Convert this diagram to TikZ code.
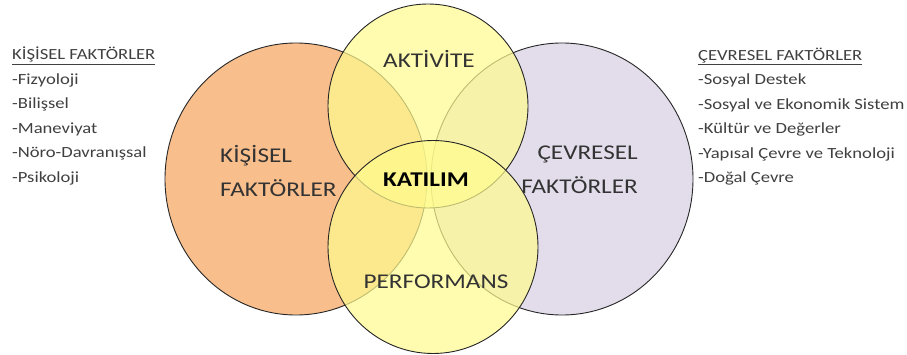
\documentclass[tikz,border=0pt]{standalone}
\usepackage{fontspec}
\setmainfont[FakeStretch=1.2]{Carlito}
\usetikzlibrary{shapes.geometric}
\usetikzlibrary{positioning}
\tikzset{>=latex}
\definecolor{turuncu}{HTML}{F8BE8C}
\definecolor{lila}{HTML}{E3DDEB}
\definecolor{sari}{HTML}{FFFC8E}
\definecolor{yazi}{HTML}{333333}
\definecolor{liste}{HTML}{404040}

\begin{document}
\begin{tikzpicture}[x=1pt,y=-1pt,
	daire/.style={ellipse,draw=black!85,line width=0.9pt,inner sep=0pt},
	sarid/.style={daire,fill=sari,fill opacity=0.7},
	etiket/.style={inner sep=0pt,text=yazi,font=\fontsize{21}{34}\selectfont},
	liste/.style={inner sep=0pt,anchor=base west,align=left,text=liste,font=\fontsize{15.5}{24.5}\selectfont}]
	\useasboundingbox[fill=white] (0,0) rectangle (907,355);
	\node[daire,fill=turuncu,minimum width=262pt,minimum height=272pt] (kisisel) at (296,179) {};
	\node[daire,fill=lila,minimum width=262pt,minimum height=272pt] (cevresel) at (562,179) {};
	\node[sarid,minimum width=200pt,minimum height=204pt] (aktivite) at (428,106) {};
	\node[sarid,minimum width=210pt,minimum height=213pt] (performans) at (433,247) {};
	\node[etiket,anchor=base west,align=left] (kisiselyazi) at (220,197) {KİŞİSEL\\FAKTÖRLER};
	\node[etiket,anchor=base east,align=right] (cevreselyazi) at (638,194) {ÇEVRESEL\\FAKTÖRLER};
	\node[etiket,anchor=base] (aktiviteyazi) at (429,68) {AKTİVİTE};
	\node[etiket,anchor=base,font=\fontsize{21}{34}\selectfont\bfseries,text=black] (katilim) at (426,187) {KATILIM};
	\node[etiket,anchor=base] (performansyazi) at (436,288) {PERFORMANS};
	\node[liste] (kliste) at (12,182.5) {\underline{KİŞİSEL FAKTÖRLER}\\-Fizyoloji\\-Bilişsel\\-Maneviyat\\-Nöro-Davranışsal\\-Psikoloji};
	\node[liste] (cliste) at (698,183) {\underline{ÇEVRESEL FAKTÖRLER}\\-Sosyal Destek\\-Sosyal ve Ekonomik Sistem\\-Kültür ve Değerler\\-Yapısal Çevre ve Teknoloji\\-Doğal Çevre};
\end{tikzpicture}
\end{document}
